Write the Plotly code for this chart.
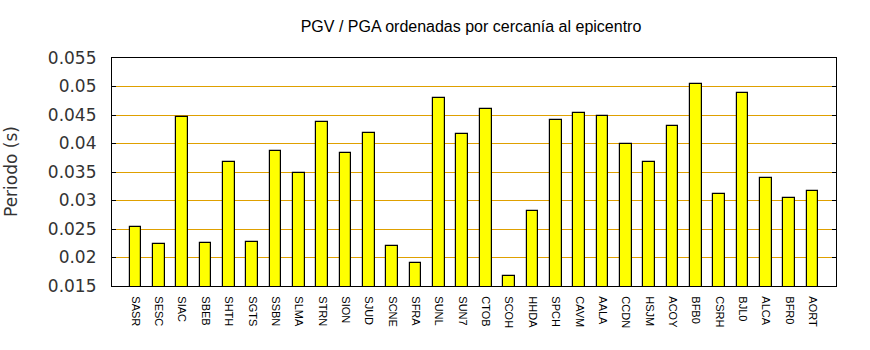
import plotly.graph_objects as go

stations = ["SASR", "SESC", "SIAC", "SBEB", "SHTH", "SGTS", "SSBN", "SLMA", "STRN", "SION",
            "SJUD", "SCNE", "SFRA", "SUNL", "SUN7", "CTOB", "SCOH", "HHDA", "SPCH", "CAVM",
            "AALA", "CCDN", "HSJM", "ACOY", "BFB0", "CSRH", "BJL0", "ALCA", "BFR0", "AORT"]
periods = [0.0254, 0.0223, 0.0447, 0.0226, 0.0368, 0.0228, 0.0386, 0.0349, 0.0438, 0.0384,
           0.0419, 0.0221, 0.0191, 0.0479, 0.0416, 0.0461, 0.0168, 0.0281, 0.0442, 0.0454,
           0.0449, 0.0400, 0.0368, 0.0430, 0.0505, 0.0312, 0.0488, 0.0339, 0.0305, 0.0316]
y_ticks = [0.015, 0.02, 0.025, 0.03, 0.035, 0.04, 0.045, 0.05, 0.055]
y_tick_text = ["0.015", "0.02", "0.025", "0.03", "0.035", "0.04", "0.045", "0.05", "0.055"]

title_text = "PGV / PGA ordenadas por cercanía al epicentro"
y_title = "Periodo (s)"

x_idx = list(range(len(stations)))

fig = go.Figure()
fig.add_trace(go.Bar(
    x=x_idx, y=periods, width=0.5,
    marker=dict(color="#FFFF00", line=dict(color="black", width=1.2)),
))

W, H = 870, 350
L, R, T, B = 112, 34, 58, 64

fig.update_layout(
    width=W, height=H,
    margin=dict(l=L, r=R, t=T, b=B),
    paper_bgcolor="white", plot_bgcolor="white",
    showlegend=False,
    bargap=0,
    title=dict(text=title_text, x=471 / W, xanchor="center", y=1 - 26 / H, yanchor="middle",
               font=dict(family="Liberation Sans", size=16, color="black")),
    xaxis=dict(
        range=[-1, len(stations)],
        tickmode="array", tickvals=x_idx, ticktext=stations,
        tickangle=90, ticks="", showgrid=False, zeroline=False,
        showline=True, linecolor="black", linewidth=1.2, mirror=True,
        tickfont=dict(family="Liberation Sans", size=11, color="black"),
        ticklabelstandoff=7,
    ),
    yaxis=dict(
        range=[0.015, 0.055],
        tickmode="array", tickvals=y_ticks, ticktext=y_tick_text,
        ticks="inside", ticklen=4, tickcolor="black", tickwidth=1,
        showgrid=True, gridcolor="#DFA000", gridwidth=1,
        zeroline=False,
        showline=True, linecolor="black", linewidth=1.2, mirror="ticks",
        tickfont=dict(family="DejaVu Sans", size=17, color="#333333"),
        ticklabelstandoff=11,
    ),
    annotations=[dict(
        text=y_title, xref="paper", yref="paper",
        x=(11 - L) / (W - L - R), y=0.5, xanchor="center", yanchor="middle",
        textangle=-90, showarrow=False,
        font=dict(family="DejaVu Sans", size=17, color="#333333"),
    )],
)

fig.write_html("out.html")
